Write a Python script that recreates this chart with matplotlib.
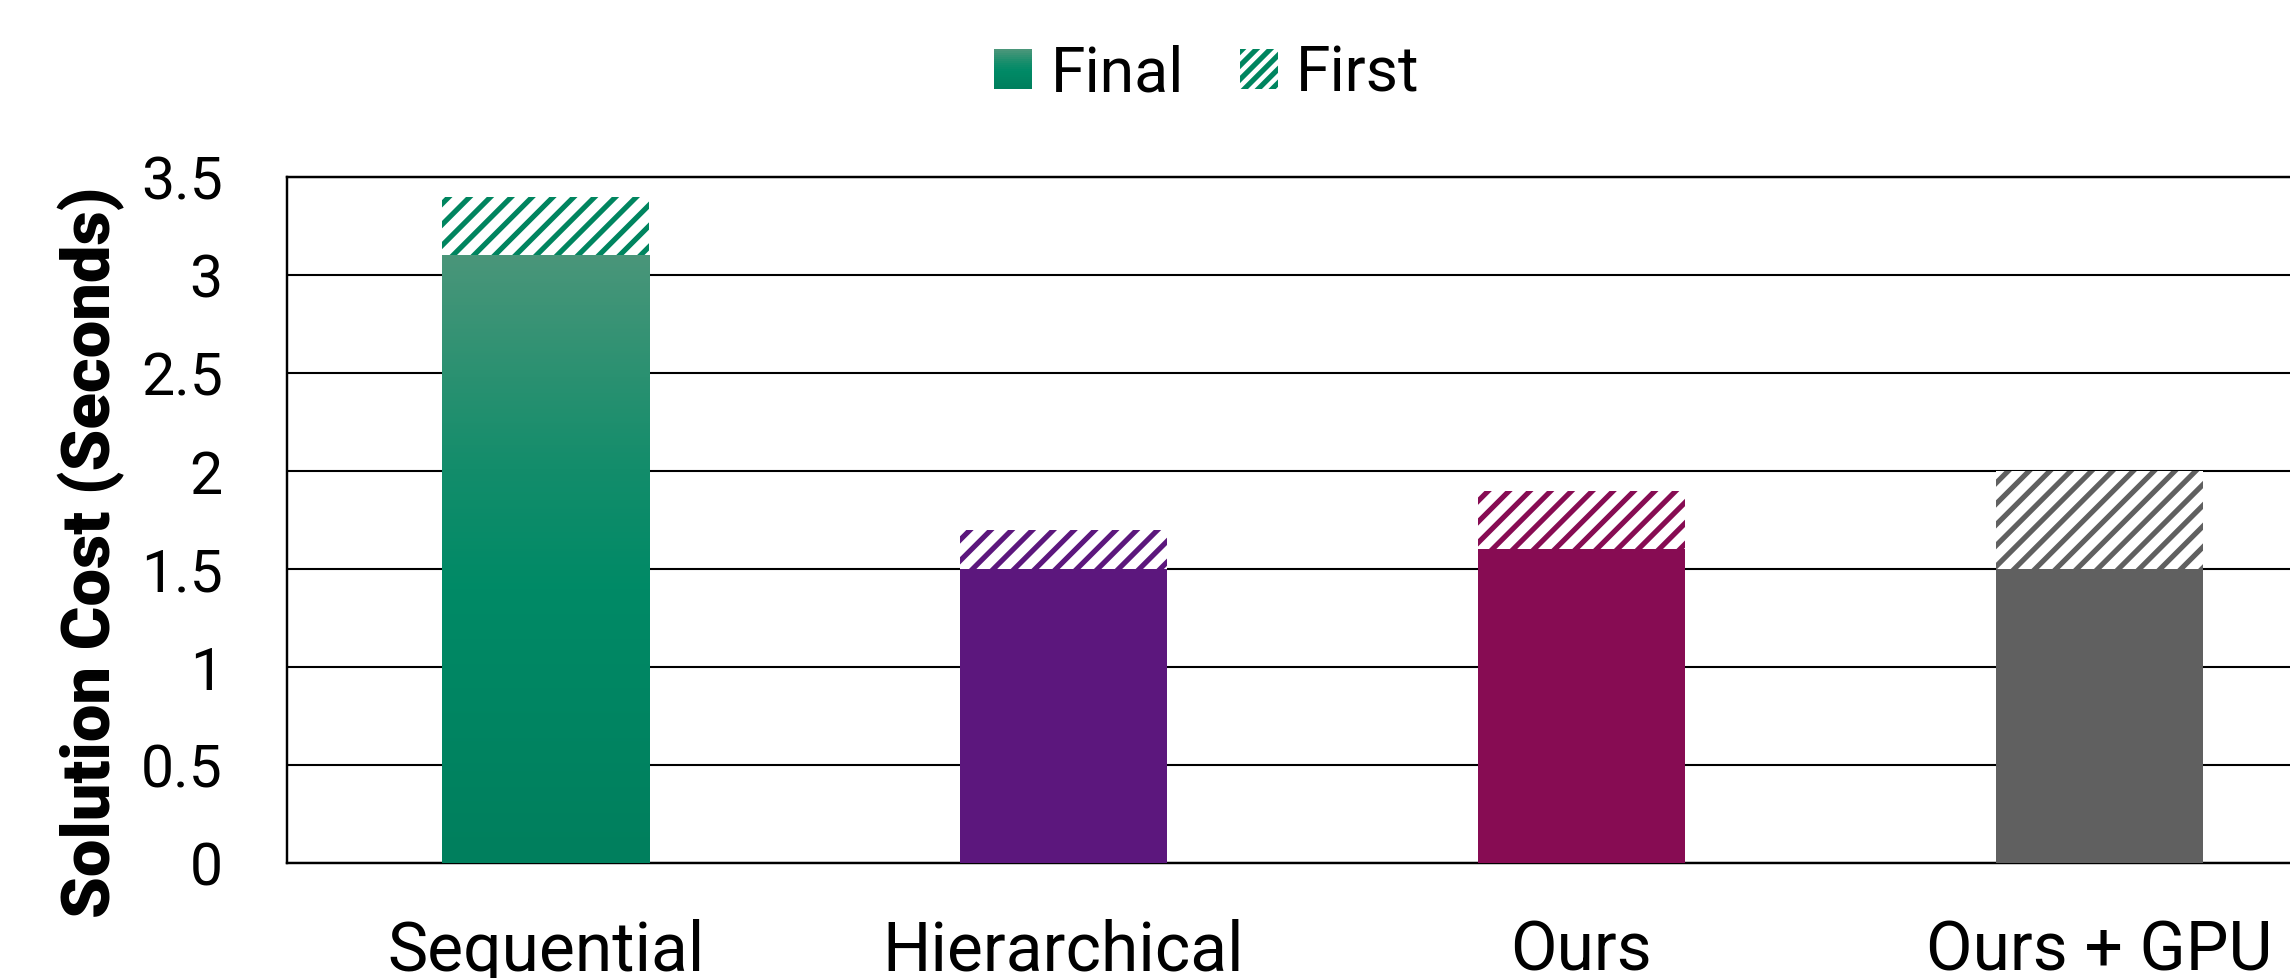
import matplotlib
matplotlib.use('Agg')
import matplotlib.pyplot as plt
import matplotlib.patches as mpatches
from matplotlib.colors import LinearSegmentedColormap
from matplotlib.legend_handler import HandlerBase
import numpy as np

# ── data ──────────────────────────────────────────────────────────────
methods = ["Sequential", "Hierarchical", "Ours", "Ours + GPU"]
final_cost = [3.1, 1.5, 1.6, 1.5]
first_cost = [3.4, 1.7, 1.9, 2.0]
colors = ["#00855F", "#5C177D", "#870C53", "#606060"]
yticks = [0, 0.5, 1, 1.5, 2, 2.5, 3, 3.5]
ytick_labels = ["0", "0.5", "1", "1.5", "2", "2.5", "3", "3.5"]

GREEN_GRAD = LinearSegmentedColormap.from_list(
    "green_grad",
    [(0.0, "#007F5D"), (0.45, "#008A66"), (0.65, "#138D6B"),
     (0.8, "#2A9171"), (1.0, "#4A967A")])

plt.rcParams['font.family'] = ['Roboto', 'DejaVu Sans']
plt.rcParams['hatch.linewidth'] = 3.0

DPI = 125
fig = plt.figure(figsize=(2290 / DPI, 978 / DPI), dpi=DPI, facecolor='white')
ax = fig.add_axes([287 / 2290, 115 / 978, 2071 / 2290, 686 / 978])

x = np.arange(len(methods))
width = 0.4
extra = [f - s for f, s in zip(first_cost, final_cost)]

bars = ax.bar(x, final_cost, width, color=colors, linewidth=0, zorder=3)
ax.bar(x, extra, width, bottom=final_cost, facecolor='white',
       edgecolor=colors, hatch='//', linewidth=0, zorder=3)

# gradient fill on the first (green) bar
b0 = bars[0]
b0.set_facecolor('none')
grad = np.linspace(0, 1, 256).reshape(-1, 1)
im = ax.imshow(grad, cmap=GREEN_GRAD, origin='lower', aspect='auto',
               extent=[b0.get_x(), b0.get_x() + b0.get_width(), 0, b0.get_height()],
               zorder=2.9)
im.set_clip_path(b0)

ax.set_xlim(-0.5, len(methods) - 0.5)
ax.set_ylim(0, 3.5)
ax.set_yticks(yticks)
ax.set_yticklabels(ytick_labels)
ax.set_xticks(x)
ax.set_xticklabels(methods)
ax.tick_params(axis='y', length=0, pad=37, labelsize=34)
ax.tick_params(axis='x', length=0, pad=32, labelsize=39)
ax.yaxis.grid(True, color='black', linewidth=1.2, zorder=1)
ax.set_axisbelow(True)
for sp in ax.spines.values():
    sp.set_color('black')
    sp.set_linewidth(1.4)

fig.text(91 / 2290, 1 - 552 / 978, "Solution Cost (Seconds)", rotation=90,
         ha='center', va='center', fontsize=38.5, fontweight='black')


class GradientHandler(HandlerBase):
    def create_artists(self, legend, orig_handle, xdescent, ydescent,
                       width, height, fontsize, trans):
        n = 20
        arts = []
        for i in range(n):
            r = mpatches.Rectangle((-xdescent, -ydescent + height * i / n),
                                   width, height / n * 1.05,
                                   facecolor=GREEN_GRAD(i / (n - 1)),
                                   edgecolor='none', transform=trans)
            arts.append(r)
        return arts


h_final = mpatches.Patch(facecolor=colors[0], label='Final')
h_first = mpatches.Patch(facecolor='white', edgecolor=colors[0], hatch='///',
                         linewidth=0, label='First')
fig.legend(handles=[h_final, h_first], labels=['Final', 'First'],
           handler_map={h_final: GradientHandler()},
           loc='center', bbox_to_anchor=(1207 / 2290, 1 - 74 / 978),
           ncol=2, frameon=False, fontsize=36, handlelength=0.6,
           handleheight=0.6, handletextpad=0.3, columnspacing=0.9)

fig.savefig("out.png", dpi=DPI, facecolor='white')
